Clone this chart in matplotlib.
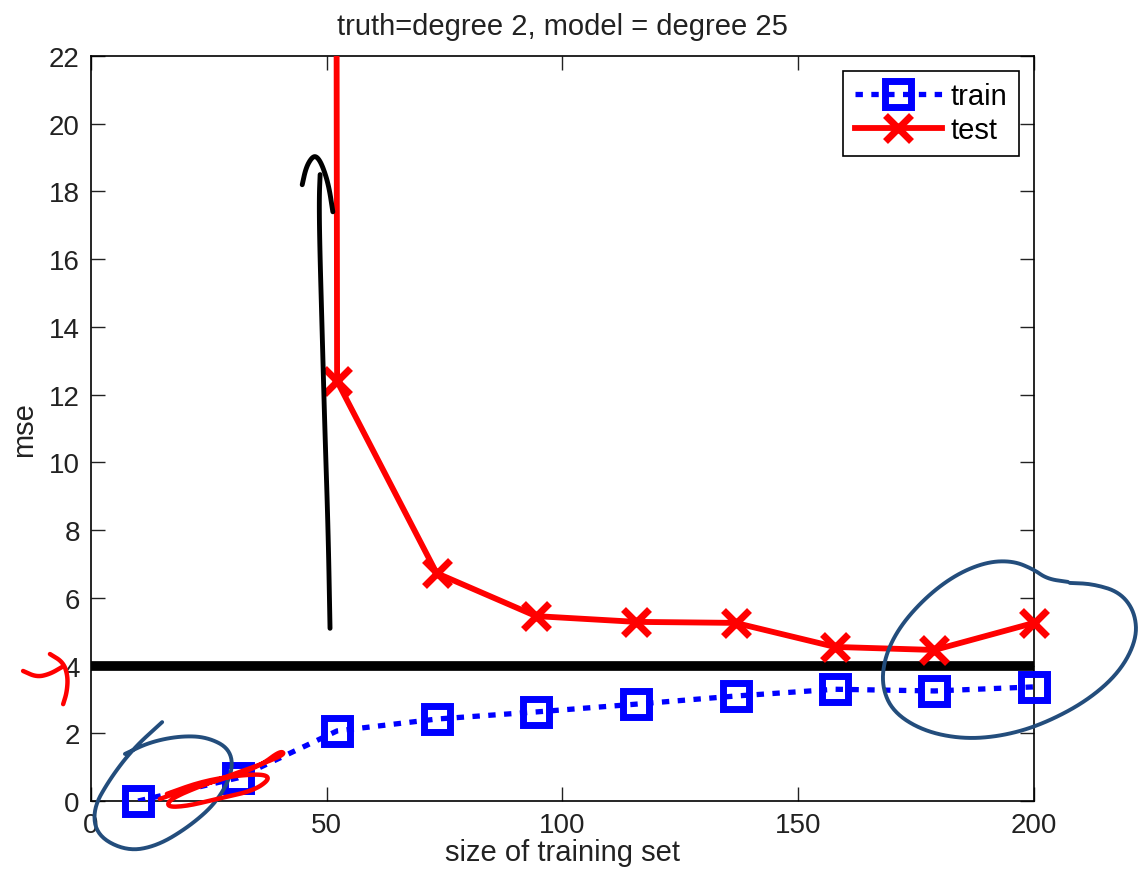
import numpy as np
import matplotlib
matplotlib.use("Agg")
import matplotlib.pyplot as plt

plt.rcParams['font.family'] = ['Liberation Sans', 'DejaVu Sans']

# training set sizes and mse values
sizes = [10, 31.1, 52.2, 73.3, 94.4, 115.6, 136.7, 157.8, 178.9, 200]
train_mse = [0.0, 0.68, 2.07, 2.42, 2.63, 2.86, 3.10, 3.30, 3.25, 3.37]
# first two test values blow up far above the visible range
test_mse = [3e5, 2e3, 12.4, 6.73, 5.46, 5.29, 5.26, 4.55, 4.46, 5.26]
noise_level = 4.0

xticks = [0, 50, 100, 150, 200]
yticks = [0, 2, 4, 6, 8, 10, 12, 14, 16, 18, 20, 22]

# hand drawn pen marks on top of the slide, in data units
pen_arrow_shaft = ([50.7, 50.3, 49.6, 49.0, 48.5, 48.4, 48.6],
                   [5.1, 8.0, 11.0, 14.0, 16.5, 17.8, 18.5])
pen_arrow_head = ([44.8, 45.6, 46.8, 47.8, 49.0, 50.4, 51.3],
                  [18.2, 18.7, 19.0, 19.05, 18.8, 18.2, 17.4])
pen_left_loop = ([15.1, 8.9, 4.0, 0.4, 1.3, 7.6, 14.0, 21.0, 26.7, 30.1,
                  29.5, 24.6, 18.9, 12.5, 7.2],
                 [2.33, 1.54, 0.65, -0.24, -1.03, -1.48, -1.33, -0.74, -0.03,
                  0.86, 1.54, 1.89, 1.92, 1.74, 1.39])
pen_right_loop = ([207.2, 202.8, 199.8, 195.5, 190.0, 183.6, 177.3, 171.6,
                   168.4, 167.7, 170.1, 176.5, 184.9, 193.4, 201.9, 211.2,
                   218.2, 221.8, 221.4, 218.2, 212.5, 207.6],
                  [6.47, 6.56, 6.85, 7.09, 7.06, 6.70, 6.05, 5.17, 4.28, 3.40,
                   2.63, 2.07, 1.83, 1.92, 2.27, 2.95, 3.81, 4.78, 5.58, 6.17,
                   6.41, 6.44])
pen_red_scribble = ([14.6, 20.4, 28.8, 35.8, 40.1, 41.2, 37.3, 31.6, 23.1,
                     16.8, 16.1, 20.4, 26.7, 34.4, 38.0, 36.5, 30.1, 23.1, 16.1],
                    [0.06, 0.35, 0.68, 1.03, 1.48, 1.39, 1.15, 0.86, 0.44,
                     0.06, -0.18, -0.15, 0.06, 0.30, 0.65, 0.80, 0.74, 0.56, 0.21])
pen_red_tick1 = ([-14.4, -11.5, -8.7, -6.1], [3.84, 3.66, 3.75, 3.96])
pen_red_tick2 = ([-8.7, -5.9, -4.9, -5.1, -5.9], [4.34, 4.10, 3.69, 3.22, 2.86])


def smooth(xs, ys, rounds=3):
    # chaikin corner cutting so the pen strokes look less jagged
    pts = np.column_stack([xs, ys]).astype(float)
    for _ in range(rounds):
        q = 0.75 * pts[:-1] + 0.25 * pts[1:]
        r = 0.25 * pts[:-1] + 0.75 * pts[1:]
        new = np.empty((len(q) * 2, 2))
        new[0::2] = q
        new[1::2] = r
        pts = np.vstack([pts[:1], new, pts[-1:]])
    return pts[:, 0], pts[:, 1]


fig = plt.figure(figsize=(11.4, 8.79), dpi=100)
ax = fig.add_axes([0.0798, 0.0876, 0.8272, 0.8475])

ax.plot([0, 200], [noise_level, noise_level], color='black', lw=7,
        solid_capstyle='butt', zorder=2)

train_style = dict(color='blue', marker='s', markersize=19,
                   markerfacecolor='none', markeredgewidth=5)
test_style = dict(color='red', marker='x', markersize=19, markeredgewidth=5)

# lines are clipped to the axes, markers are not (so the x=200 ones show whole)
ax.plot(sizes, train_mse, color='blue', linestyle=(0, (1.4, 1.6)), lw=3.8,
        zorder=3)
ax.plot(sizes, train_mse, linestyle='none', clip_on=False, zorder=4,
        **train_style)
ax.plot(sizes, test_mse, color='red', lw=4.2, zorder=3)
test_vis = np.where(np.array(test_mse) > 22, np.nan, test_mse)
ax.plot(sizes, test_vis, linestyle='none', clip_on=False, zorder=4,
        **test_style)

# legend proxies
ax.plot([], [], linestyle=(0, (1.4, 1.6)), lw=3.8, label='train', **train_style)
ax.plot([], [], lw=4.2, label='test', **test_style)

ax.set_xlim(0, 200)
ax.set_ylim(0, 22)
ax.set_xticks(xticks)
ax.set_yticks(yticks)
ax.tick_params(direction='in', length=10, width=1, labelsize=20,
               top=True, right=True, colors='#222222', pad=8)
for s in ax.spines.values():
    s.set_linewidth(1.2)

ax.set_title('truth=degree 2, model = degree 25', fontsize=21,
             color='#222222', pad=16)
ax.set_xlabel('size of training set', fontsize=21, color='#222222', labelpad=0)
ax.set_ylabel('mse', fontsize=21, color='#222222', labelpad=8)

leg = ax.legend(loc='upper right', fontsize=21, fancybox=False,
                edgecolor='black', framealpha=1, handlelength=3.0,
                borderaxespad=0.5, handletextpad=0.3, borderpad=0.4,
                labelspacing=0.2)
leg.get_frame().set_linewidth(1.2)

pen_blue = '#234d7c'
for (px, py), col, w in [(pen_arrow_shaft, 'black', 3.5),
                         (pen_arrow_head, 'black', 3.5),
                         (pen_left_loop, pen_blue, 2.8),
                         (pen_right_loop, pen_blue, 2.8),
                         (pen_red_scribble, 'red', 3.2),
                         (pen_red_tick1, 'red', 3.2),
                         (pen_red_tick2, 'red', 3.2)]:
    sx, sy = smooth(px, py)
    ax.plot(sx, sy, color=col, lw=w, clip_on=False, zorder=5,
            solid_capstyle='round', solid_joinstyle='round')

fig.savefig('out.png', dpi=100)
